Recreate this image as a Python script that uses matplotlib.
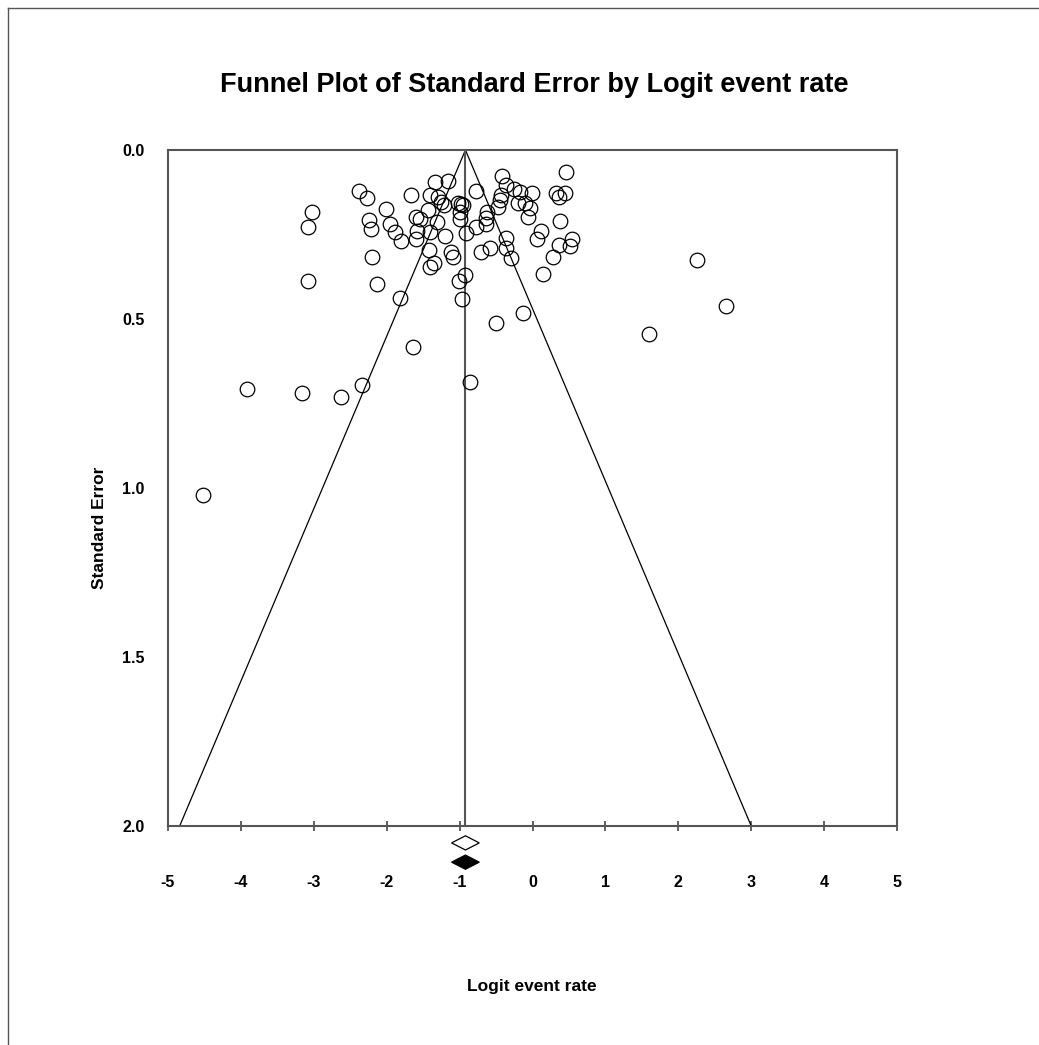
import matplotlib
matplotlib.use("Agg")
import matplotlib.pyplot as plt
from matplotlib.patches import Polygon
from matplotlib.lines import Line2D

plt.rcParams['font.family'] = ['Liberation Sans', 'DejaVu Sans']
plt.rcParams['axes.unicode_minus'] = False

# Study points: logit event rate (x) and standard error (y)
logit = [-2.381, -2.271, -1.662, -3.026, -3.076, -2.005, -2.244, -2.220, -1.960, -1.891,
         -1.799, -1.603, -1.582, -1.603, -2.197, -3.081, -2.134, -1.813, -1.637, -3.158,
         -2.623, -2.334, -3.918, -4.526, -1.342, -1.159, -0.779, -0.412, -0.358, -0.257,
         -0.175, -0.001, -1.410, -1.297, -1.250, -1.210, -1.022, -0.975, -0.953, -0.989,
         -0.999, -1.434, -1.548, -1.310, -0.624, -0.642, -0.769, -0.473, -0.450, -0.426,
         -0.198, -0.106, -0.038, -0.061, 0.123, 0.068, -0.916, -1.205, -1.410, -0.358,
         -0.358, -0.289, -0.587, -0.710, -1.113, -1.091, -1.420, -1.356, -1.401, -0.930,
         -1.006, 0.141, 0.456, 0.319, 0.364, 0.443, 0.374, 0.535, 0.521, 0.364,
         0.282, -0.962, -0.130, -0.504, -0.861, 1.600, 2.653, 2.255, -0.632]
std_err = [0.120, 0.143, 0.133, 0.183, 0.228, 0.175, 0.207, 0.233, 0.219, 0.243,
           0.268, 0.197, 0.240, 0.263, 0.317, 0.387, 0.396, 0.439, 0.584, 0.718,
           0.730, 0.696, 0.708, 1.020, 0.094, 0.092, 0.120, 0.077, 0.104, 0.116,
           0.123, 0.126, 0.133, 0.138, 0.153, 0.163, 0.156, 0.160, 0.163, 0.183,
           0.205, 0.178, 0.205, 0.212, 0.183, 0.202, 0.229, 0.170, 0.148, 0.133,
           0.158, 0.158, 0.172, 0.197, 0.240, 0.264, 0.245, 0.254, 0.242, 0.261,
           0.291, 0.320, 0.291, 0.303, 0.301, 0.316, 0.296, 0.335, 0.347, 0.370,
           0.388, 0.368, 0.066, 0.128, 0.138, 0.128, 0.209, 0.264, 0.284, 0.281,
           0.317, 0.442, 0.483, 0.513, 0.687, 0.544, 0.461, 0.325, 0.219]

# Summary estimate and its confidence interval
summary_mean = -0.92
summary_ci = [-1.11, -0.73]
adjusted_mean = -0.92
adjusted_ci = [-1.11, -0.73]
z_crit = 1.96
se_max = 2.0

x_ticks = [-5, -4, -3, -2, -1, 0, 1, 2, 3, 4, 5]
y_ticks = [0.0, 0.5, 1.0, 1.5, 2.0]

fig = plt.figure(figsize=(10.39, 10.45), dpi=100)
ax = fig.add_axes([168/1039, 1-826/1045, (897-168)/1039, (826-150)/1045])

# frame around figure (top and left edges visible)
fig.add_artist(Line2D([8/1039, 8/1039], [1-8/1045, 0.0], color='#555555', lw=1.0))
fig.add_artist(Line2D([8/1039, 1.0], [1-8/1045, 1-8/1045], color='#555555', lw=1.0))

# funnel
ax.plot([summary_mean - z_crit*se_max, summary_mean, summary_mean + z_crit*se_max],
        [se_max, 0, se_max], color='black', lw=0.9, zorder=2)
ax.plot([summary_mean, summary_mean], [0, se_max], color='#555555', lw=1.5, zorder=2)

ax.plot(logit, std_err, linestyle='none', marker='o', markersize=10.5,
        markerfacecolor='none', markeredgecolor='black', markeredgewidth=0.9, zorder=3)

ax.set_xlim(-5, 5)
ax.set_ylim(2.0, 0.0)

# diamonds below axis
def diamond(cx, lo, hi, cy, hh, face):
    p = Polygon([[lo, cy], [cx, cy - hh], [hi, cy], [cx, cy + hh]], closed=True,
                facecolor=face, edgecolor='black', lw=0.9, clip_on=False, zorder=4)
    ax.add_patch(p)

diamond(summary_mean, summary_ci[0], summary_ci[1], 2.050, 0.021, 'white')
diamond(adjusted_mean, adjusted_ci[0], adjusted_ci[1], 2.107, 0.021, 'black')

ax.set_xticks(x_ticks)
ax.set_xticklabels([str(t) for t in x_ticks])
ax.set_yticks(y_ticks)
ax.set_yticklabels([f"{t:.1f}" for t in y_ticks])
ax.tick_params(axis='x', direction='inout', length=7, width=1.3, color='#555555', pad=32,
               labelsize=11.5)
ax.tick_params(axis='y', length=0, pad=17, labelsize=11.5)
for lab in ax.get_xticklabels() + ax.get_yticklabels():
    lab.set_fontweight('bold')

for s in ax.spines.values():
    s.set_color('#555555')
    s.set_linewidth(1.5)

fig.text(534/1039, 1-85/1045, 'Funnel Plot of Standard Error by Logit event rate',
         ha='center', va='center', fontsize=19.5, fontweight='bold')
fig.text(100/1039, 1-528/1045, 'Standard Error', rotation=90, ha='center', va='center',
         fontsize=12.5, fontweight='bold')
fig.text(532/1039, 1-987/1045, 'Logit event rate', ha='center', va='center',
         fontsize=12.5, fontweight='bold')

fig.savefig('out.png', dpi=100)
